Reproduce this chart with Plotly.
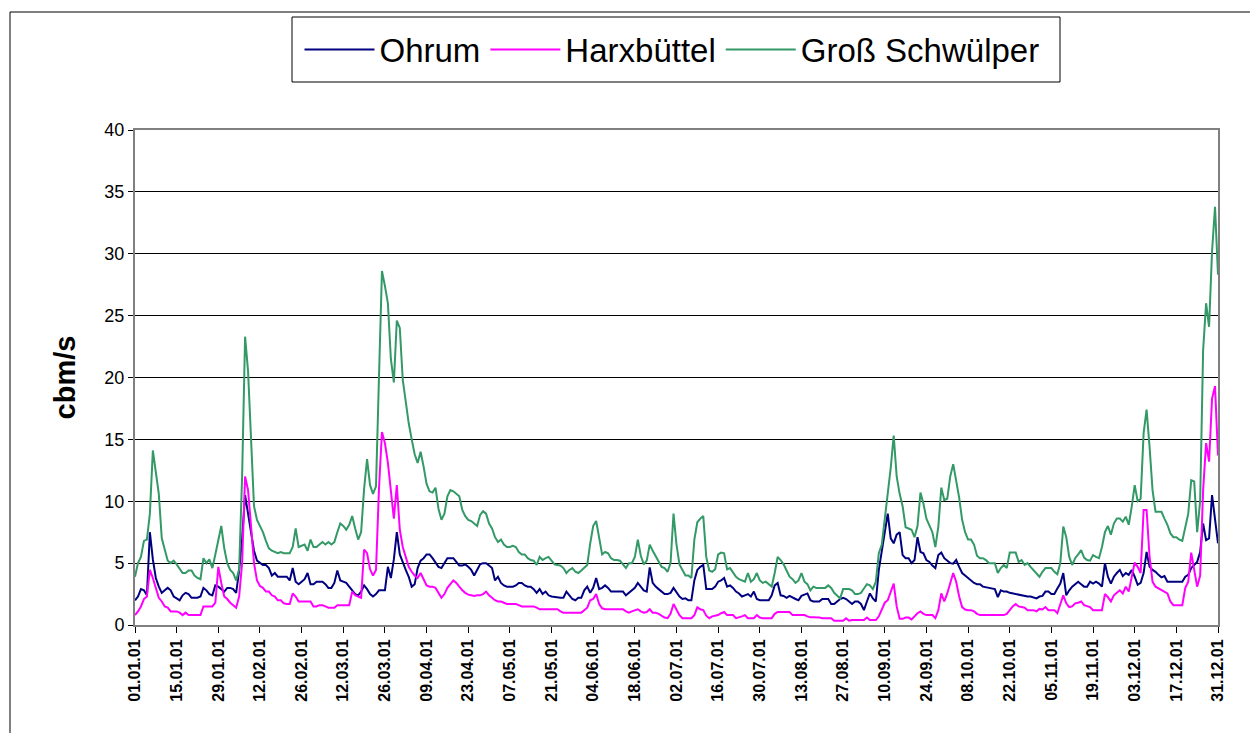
import pandas as pd
import plotly.graph_objects as go

# Daily discharge 2001 (cbm/s), one value per day
ohrum = (
    # Jan
    [2.0, 2.3, 2.9, 2.8, 2.4, 7.5, 5.3, 3.8, 3.1, 2.6,
     2.8, 3.0, 2.8, 2.3, 2.15, 2.0, 2.4, 2.6, 2.5, 2.2,
     2.2, 2.2, 2.3, 3.0, 2.8, 2.5, 2.4, 3.2, 3.1, 2.9, 2.7]
    # Feb
    + [3.0, 3.0, 2.9, 2.6, 4.4, 7.0, 10.5, 9.0, 7.4, 6.0,
       5.2, 5.0, 4.85, 4.85, 4.6, 4.0, 4.2, 3.9, 3.9, 3.9,
       3.9, 3.6, 4.6, 3.5, 3.3, 3.5, 3.7, 4.2]
    # Mar
    + [3.3, 3.3, 3.5, 3.5, 3.5, 3.3, 3.0, 3.0, 3.4, 4.4,
       3.6, 3.5, 3.4, 3.1, 2.8, 2.5, 2.4, 2.7, 3.2, 2.9,
       2.5, 2.3, 2.5, 2.8, 2.8, 2.8, 4.7, 3.8, 5.3, 7.5, 5.7]
    # Apr
    + [5.0, 4.45, 3.9, 3.1, 3.3, 4.6, 5.2, 5.4, 5.7, 5.7,
       5.4, 5.0, 4.7, 4.6, 5.0, 5.4, 5.4, 5.4, 5.1, 4.8,
       4.8, 4.9, 4.7, 4.45, 4.0, 4.4, 4.9, 5.0, 5.0, 4.8]
    # May
    + [4.6, 3.6, 3.9, 3.4, 3.2, 3.1, 3.1, 3.1, 3.2, 3.4,
       3.4, 3.2, 3.1, 3.1, 2.9, 2.6, 2.9, 2.5, 2.7, 2.4,
       2.3, 2.25, 2.2, 2.2, 2.2, 2.7, 2.4, 2.1, 2.0, 2.2, 2.2]
    # Jun
    + [2.8, 3.1, 2.6, 3.0, 3.8, 2.9, 3.0, 3.2, 3.0, 2.7,
       2.7, 2.7, 2.7, 2.7, 2.4, 2.6, 2.8, 3.0, 3.4, 3.1,
       2.8, 2.7, 4.65, 3.4, 3.1, 2.9, 2.7, 2.5, 2.5, 2.6]
    # Jul
    + [3.0, 2.6, 2.3, 2.1, 2.15, 2.0, 2.0, 3.6, 4.45, 4.7,
       4.85, 2.9, 2.9, 2.9, 3.1, 3.5, 3.6, 3.8, 3.1, 3.2,
       3.0, 2.7, 2.55, 2.3, 2.4, 2.5, 2.3, 2.7, 2.1, 2.0, 2.0]
    # Aug
    + [2.0, 2.0, 2.4, 3.2, 3.4, 2.4, 2.35, 2.2, 2.35, 2.2,
       2.1, 2.0, 2.35, 2.45, 2.55, 2.0, 1.9, 1.9, 1.9, 2.1,
       2.1, 2.1, 1.7, 1.7, 1.9, 2.1, 2.2, 2.1, 1.9, 1.7, 1.9]
    # Sep
    + [1.9, 1.7, 1.2, 1.9, 2.55, 2.15, 1.9, 4.45, 6.1, 7.5,
       9.0, 7.0, 6.6, 7.3, 7.5, 5.65, 5.4, 5.4, 5.0, 5.25,
       7.1, 5.9, 5.8, 5.25, 5.1, 4.8, 4.6, 5.65, 5.85, 5.4]
    # Oct
    + [5.2, 5.0, 4.95, 5.25, 4.7, 4.2, 4.0, 3.8, 3.6, 3.4,
       3.3, 3.3, 3.1, 3.05, 2.95, 2.9, 2.9, 2.25, 2.8, 2.7,
       2.7, 2.6, 2.55, 2.5, 2.45, 2.4, 2.3, 2.3, 2.3, 2.25, 2.15]
    # Nov
    + [2.3, 2.35, 2.7, 2.7, 2.5, 2.5, 2.95, 3.35, 4.2, 2.4,
       2.8, 3.1, 3.3, 3.5, 3.3, 3.1, 3.1, 3.5, 3.35, 3.5,
       3.35, 3.1, 5.0, 3.9, 3.35, 3.9, 4.2, 4.45, 3.95, 4.2]
    # Dec
    + [4.05, 4.45, 3.9, 3.25, 3.4, 4.2, 5.9, 4.7, 4.45, 4.3,
       4.05, 3.85, 3.95, 3.5, 3.5, 3.5, 3.5, 3.5, 3.5, 3.9,
       4.05, 4.6, 4.85, 5.1, 5.9, 8.2, 6.85, 7.0, 10.5, 8.75, 6.6]
)

harxbuettel = (
    # Jan
    [0.8, 1.1, 1.5, 2.1, 2.3, 4.45, 3.8, 3.0, 2.2, 1.9,
     1.5, 1.4, 1.1, 1.1, 1.1, 1.0, 0.8, 1.0, 0.8, 0.8,
     0.8, 0.8, 0.8, 1.5, 1.5, 1.5, 1.5, 1.8, 4.7, 3.4, 2.3]
    # Feb
    + [2.1, 1.8, 1.6, 1.4, 2.3, 5.0, 12.0, 10.9, 8.0, 5.0,
       3.6, 3.15, 3.0, 2.7, 2.7, 2.4, 2.3, 2.0, 2.0, 1.75,
       1.7, 1.7, 2.55, 2.3, 1.9, 1.9, 1.9, 1.9]
    # Mar
    + [1.9, 1.5, 1.5, 1.6, 1.6, 1.5, 1.4, 1.4, 1.4, 1.6,
       1.6, 1.6, 1.6, 1.6, 2.7, 2.4, 2.3, 2.2, 6.1, 5.8,
       4.5, 4.0, 4.45, 11.0, 15.6, 14.7, 13.1, 10.6, 8.6, 11.3, 7.7]
    # Apr
    + [6.3, 5.4, 4.7, 4.3, 4.0, 3.8, 4.2, 3.7, 3.2, 3.1,
       3.1, 3.0, 2.55, 2.2, 2.5, 3.0, 3.3, 3.6, 3.4, 3.1,
       2.8, 2.6, 2.45, 2.4, 2.35, 2.4, 2.4, 2.5, 2.7, 2.4]
    # May
    + [2.2, 2.0, 1.9, 1.9, 1.8, 1.7, 1.7, 1.7, 1.7, 1.6,
       1.5, 1.5, 1.5, 1.5, 1.5, 1.4, 1.27, 1.27, 1.27, 1.27,
       1.27, 1.27, 1.27, 1.1, 1.0, 1.0, 1.0, 1.0, 1.0, 1.0, 1.0]
    # Jun
    + [1.2, 1.4, 2.0, 2.1, 2.5, 1.7, 1.35, 1.27, 1.27, 1.27,
       1.27, 1.27, 1.27, 1.27, 1.1, 1.0, 1.1, 1.2, 1.27, 1.1,
       1.0, 1.05, 1.27, 1.0, 1.0, 0.9, 0.75, 0.6, 0.55, 0.9]
    # Jul
    + [1.7, 1.3, 0.8, 0.55, 0.55, 0.55, 0.55, 0.8, 1.43, 1.27,
       1.2, 0.75, 0.55, 0.7, 0.75, 0.8, 0.95, 1.05, 0.8, 0.8,
       0.8, 0.55, 0.6, 0.7, 0.8, 0.55, 0.55, 0.55, 0.8, 0.6, 0.55]
    # Aug
    + [0.55, 0.55, 0.55, 0.9, 1.05, 1.05, 1.05, 1.05, 1.05, 0.8,
       0.8, 0.8, 0.8, 0.8, 0.7, 0.62, 0.62, 0.62, 0.6, 0.55,
       0.55, 0.55, 0.55, 0.35, 0.35, 0.35, 0.35, 0.55, 0.35, 0.4, 0.4]
    # Sep
    + [0.4, 0.4, 0.4, 0.6, 0.4, 0.4, 0.4, 0.7, 1.2, 1.8,
       2.0, 2.7, 3.35, 1.5, 0.5, 0.5, 0.6, 0.6, 0.45, 0.7,
       0.95, 1.1, 0.9, 0.8, 0.8, 0.8, 0.55, 1.2, 2.55, 1.9]
    # Oct
    + [2.55, 3.5, 4.2, 3.5, 2.3, 1.45, 1.25, 1.2, 1.2, 1.1,
       0.9, 0.8, 0.8, 0.8, 0.8, 0.8, 0.8, 0.8, 0.8, 0.8,
       0.9, 1.2, 1.5, 1.7, 1.5, 1.45, 1.4, 1.2, 1.2, 1.2, 1.1]
    # Nov
    + [1.3, 1.25, 1.45, 1.2, 1.2, 1.2, 0.95, 1.6, 2.4, 1.75,
       1.45, 1.5, 1.75, 1.8, 1.9, 1.6, 1.5, 1.45, 1.2, 1.2,
       1.2, 1.2, 2.5, 2.25, 1.9, 2.4, 2.6, 2.8, 2.55, 3.1]
    # Dec
    + [2.7, 3.9, 5.05, 4.7, 4.2, 9.3, 9.3, 5.5, 3.5, 3.1,
       2.95, 2.8, 2.7, 2.55, 1.9, 1.6, 1.6, 1.6, 1.6, 3.0,
       3.5, 5.85, 4.45, 3.1, 4.0, 10.9, 14.7, 13.2, 18.3, 19.3, 13.7]
)

gross_schwuelper = (
    # Jan
    [3.9, 5.0, 5.5, 6.8, 6.9, 9.0, 14.1, 12.5, 10.6, 7.0,
     6.2, 5.2, 5.0, 5.2, 4.9, 4.5, 4.2, 4.2, 4.4, 4.4,
     4.0, 3.8, 3.7, 5.4, 5.0, 5.3, 4.6, 5.7, 7.0, 8.0, 6.2]
    # Feb
    + [5.0, 4.45, 4.2, 3.6, 4.5, 12.0, 23.3, 20.5, 14.5, 9.6,
       8.5, 8.0, 7.5, 6.8, 6.2, 6.0, 5.9, 5.8, 5.9, 5.8,
       5.8, 5.8, 6.3, 7.8, 6.3, 6.4, 6.5, 6.0]
    # Mar
    + [6.9, 6.3, 6.3, 6.5, 6.7, 6.5, 6.7, 6.5, 6.7, 7.5,
       8.2, 8.0, 7.7, 8.1, 8.8, 7.8, 6.9, 7.5, 11.0, 13.4,
       11.3, 10.6, 11.2, 20.0, 28.6, 27.4, 26.0, 21.5, 19.6, 24.6, 24.0]
    # Apr
    + [19.8, 18.0, 16.3, 15.0, 13.8, 13.1, 14.0, 12.8, 11.4, 10.8,
       10.7, 11.1, 9.4, 8.5, 9.0, 10.4, 10.9, 10.8, 10.6, 10.4,
       9.3, 8.8, 8.5, 8.4, 8.2, 8.0, 8.9, 9.2, 9.0, 8.2]
    # May
    + [7.8, 7.1, 6.7, 6.9, 6.5, 6.3, 6.3, 6.4, 6.3, 5.9,
       5.7, 5.7, 5.4, 5.25, 5.2, 4.85, 5.5, 5.25, 5.4, 5.5,
       5.2, 4.9, 4.85, 4.8, 4.6, 4.2, 4.45, 4.6, 4.3, 4.2, 4.4]
    # Jun
    + [4.6, 4.85, 6.6, 8.0, 8.4, 7.0, 5.7, 5.9, 5.8, 5.4,
       5.25, 5.25, 5.2, 4.9, 4.6, 5.0, 5.0, 5.5, 6.9, 5.6,
       4.9, 5.2, 6.5, 6.0, 5.6, 5.2, 4.7, 4.6, 4.3, 5.0]
    # Jul
    + [9.0, 6.5, 4.9, 4.45, 4.0, 4.0, 3.8, 6.9, 8.3, 8.6,
       8.8, 5.5, 4.4, 4.3, 4.5, 5.7, 5.85, 5.8, 4.5, 4.6,
       4.2, 3.9, 3.7, 3.6, 3.5, 4.2, 3.5, 3.7, 4.2, 3.6, 3.4]
    # Aug
    + [3.5, 3.3, 3.1, 4.2, 5.5, 5.25, 4.9, 4.4, 3.9, 3.7,
       3.4, 3.6, 4.2, 3.5, 3.3, 2.8, 3.1, 3.0, 3.0, 3.0,
       3.0, 3.2, 3.0, 2.6, 2.4, 2.15, 2.9, 2.9, 2.9, 2.8, 2.5]
    # Sep
    + [2.5, 2.6, 2.95, 3.3, 3.2, 2.9, 3.5, 5.8, 6.5, 8.5,
       10.6, 12.7, 15.3, 12.0, 10.6, 9.6, 7.9, 7.8, 7.7, 7.1,
       8.0, 10.7, 9.8, 8.6, 8.0, 7.5, 6.3, 7.95, 11.1, 10.1]
    # Oct
    + [10.2, 12.0, 13.0, 11.7, 10.3, 8.5, 7.5, 6.9, 6.9, 6.5,
       5.6, 5.4, 5.4, 5.25, 5.0, 5.0, 5.0, 4.2, 4.6, 4.85,
       4.6, 5.85, 5.85, 5.85, 5.1, 5.25, 4.85, 5.0, 4.7, 4.45, 4.2]
    # Nov
    + [3.9, 4.3, 4.6, 4.6, 4.6, 4.3, 4.1, 5.0, 7.95, 7.1,
       5.5, 4.85, 5.4, 5.7, 6.05, 5.45, 5.25, 5.2, 5.65, 5.5,
       5.4, 6.3, 7.5, 8.0, 7.3, 8.2, 8.6, 8.6, 8.35, 8.75]
    # Dec
    + [8.1, 9.55, 11.3, 10.0, 10.2, 15.5, 17.4, 14.4, 10.9, 9.15,
       9.15, 9.15, 8.6, 8.1, 7.4, 7.1, 7.1, 6.9, 6.8, 8.0,
       9.0, 11.7, 11.6, 7.5, 10.0, 22.2, 26.0, 24.1, 30.2, 33.8, 28.3]
)

series_names = ["Ohrum", "Harxbüttel", "Groß Schwülper"]
series_colors = ["#000080", "#FF00FF", "#339966"]
dates = pd.date_range("2001-01-01", periods=len(ohrum), freq="D")

FONT = "Arial, 'Liberation Sans', sans-serif"

fig = go.Figure()
for name, vals, col in zip(series_names, [ohrum, harxbuettel, gross_schwuelper], series_colors):
    fig.add_trace(go.Scatter(x=dates, y=vals, mode="lines", name=name,
                             line=dict(color=col, width=2)))

W, H = 1250, 733
L, R, T, B = 135, 32, 130, 108
pw, ph = W - L - R, H - T - B


def px_x(p):
    return (p - L) / pw


def px_y(p):
    return (H - B - p) / ph


fig.update_layout(
    width=W, height=H,
    margin=dict(l=L, r=R, t=T, b=B, pad=0),
    paper_bgcolor="white", plot_bgcolor="white",
    font=dict(family=FONT, color="black"),
    showlegend=True,
    legend=dict(orientation="h", x=px_x(672), xanchor="center",
                y=px_y(49.5), yanchor="middle",
                borderwidth=0, bgcolor="rgba(0,0,0,0)",
                font=dict(family=FONT, size=33, color="black"),
                itemwidth=70, traceorder="normal"),
    xaxis=dict(type="date", range=["2001-01-01", "2001-12-31"],
               tick0="2001-01-01", dtick=14 * 86400000, tickformat="%d.%m.%y",
               tickangle=-90, ticks="outside", ticklen=6, tickcolor="black",
               tickfont=dict(family=FONT, size=16, color="black", weight="bold"),
               showgrid=False, showline=True, linecolor="#808080", linewidth=2,
               mirror=True, zeroline=False),
    yaxis=dict(range=[0, 40], dtick=5, ticks="outside", ticklen=5, tickcolor="black",
               tickfont=dict(family=FONT, size=18, color="black"),
               showgrid=True, gridcolor="black", gridwidth=1,
               showline=True, linecolor="#808080", linewidth=2, mirror=True,
               zeroline=False,
               title=dict(text="<b>cbm/s</b>", font=dict(family=FONT, size=29, color="black"),
                          standoff=20)),
    shapes=[
        # outer chart frame
        dict(type="rect", xref="paper", yref="paper",
             x0=px_x(10), x1=px_x(1300), y0=px_y(800), y1=px_y(12),
             line=dict(color="black", width=1), layer="below"),
        # legend box
        dict(type="rect", xref="paper", yref="paper",
             x0=px_x(292), x1=px_x(1060), y0=px_y(82), y1=px_y(17),
             line=dict(color="black", width=1), fillcolor="white", layer="below"),
    ],
)

fig.write_html("out.html", config={"displayModeBar": False},
               post_script="document.body.style.margin='0';document.body.style.overflow='hidden';")
